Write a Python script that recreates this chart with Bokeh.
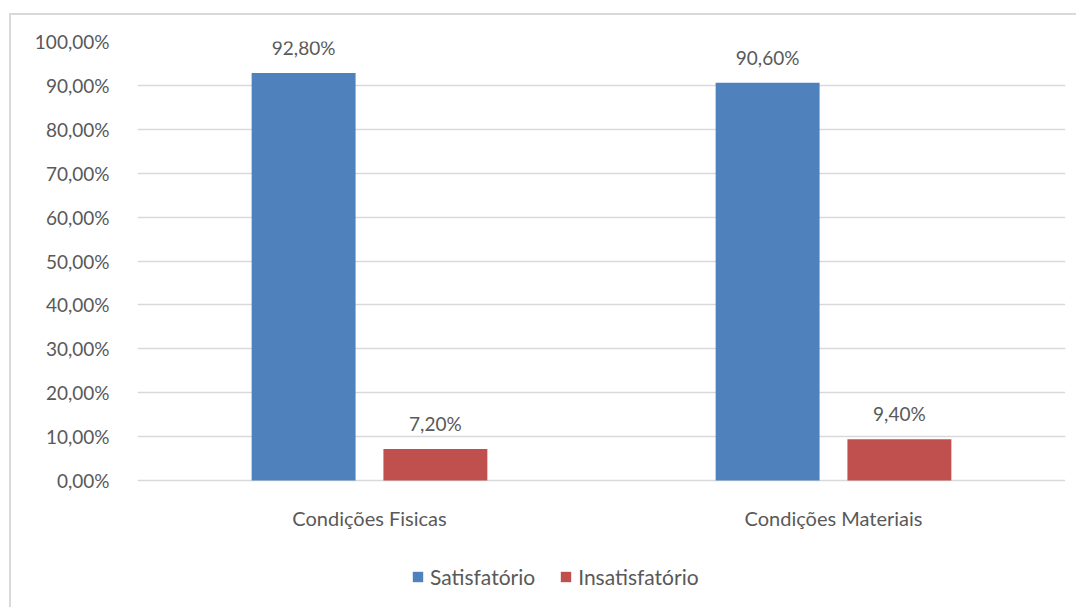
from bokeh.plotting import figure
from bokeh.models import (ColumnDataSource, FactorRange, Range1d, FixedTicker,
                          Legend, LegendItem, LabelSet)
from bokeh.core.properties import value
from bokeh.transform import dodge
from bokeh.embed import file_html
from bokeh.resources import INLINE

# Survey results per condition
categories = ["Condições Fisicas", "Condições Materiais"]
satisfatorio = [0.928, 0.906]
insatisfatorio = [0.072, 0.094]
series_names = ["Satisfatório", "Insatisfatório"]
y_ticks = [0.0, 0.1, 0.2, 0.3, 0.4, 0.5, 0.6, 0.7, 0.8, 0.9, 1.0]
y_tick_labels = ["0,00%", "10,00%", "20,00%", "30,00%", "40,00%", "50,00%",
                 "60,00%", "70,00%", "80,00%", "90,00%", "100,00%"]

BLUE = "#4F81BD"
RED = "#C0504D"
GRID = "#D9D9D9"
TEXT = "#595959"
FONT = "Lato"

# plot area geometry (pixels): value axis spans 439 px, and the space under
# the zero line holds the category names and the legend
AXIS_PX = 439
BELOW_PX = 129


def pct(v):
    return f"{v * 100:.2f}".replace(".", ",") + "%"


source = ColumnDataSource(data=dict(
    cat=categories,
    sat=satisfatorio,
    ins=insatisfatorio,
    zero=[0.0] * len(categories),
    sat_label=[pct(v) for v in satisfatorio],
    ins_label=[pct(v) for v in insatisfatorio],
))

# chart area sits inside a light border on its left and top edges
p = figure(width=1067, height=594, margin=(13, 0, 0, 9),
           x_range=FactorRange(*categories, range_padding=0),
           y_range=Range1d(-BELOW_PX / AXIS_PX, 1),
           output_backend="svg", toolbar_location=None,
           min_border_left=126, min_border_right=13,
           min_border_top=26, min_border_bottom=0)
p.styles = {"border-left": f"2px solid {GRID}", "border-top": f"2px solid {GRID}"}

p.outline_line_color = None
p.background_fill_color = "white"
p.border_fill_color = "white"

offset = 0.142
bar_w = 0.224

r_sat = p.vbar(x=dodge("cat", -offset, range=p.x_range), top="sat", width=bar_w,
               source=source, fill_color=BLUE, line_color=None)
r_ins = p.vbar(x=dodge("cat", offset, range=p.x_range), top="ins", width=bar_w,
               source=source, fill_color=RED, line_color=None)

# value labels above the bars
label_style = dict(text_font=value(FONT), text_font_size="19px", text_color=TEXT,
                   text_align="center", text_baseline="alphabetic", y_offset=18)
p.add_layout(LabelSet(x=dodge("cat", -offset, range=p.x_range), y="sat",
                      text="sat_label", source=source, **label_style))
p.add_layout(LabelSet(x=dodge("cat", offset, range=p.x_range), y="ins",
                      text="ins_label", source=source, **label_style))

# category names under the zero line
p.add_layout(LabelSet(x="cat", y="zero", text="cat", source=source,
                      text_font=value(FONT), text_font_size="20px",
                      text_color=TEXT, text_align="center",
                      text_baseline="middle", y_offset=-37))

# y axis
p.yaxis.ticker = FixedTicker(ticks=y_ticks)
p.yaxis.major_label_overrides = dict(zip(y_ticks, y_tick_labels))
p.yaxis.axis_line_color = None
p.yaxis.major_tick_line_color = None
p.yaxis.minor_tick_line_color = None
p.yaxis.major_label_text_font = FONT
p.yaxis.major_label_text_font_size = "19px"
p.yaxis.major_label_text_color = TEXT
p.yaxis.major_label_standoff = 22

p.xaxis.visible = False
p.xgrid.grid_line_color = None
p.ygrid.grid_line_color = GRID
p.ygrid.grid_line_width = 1.5

legend = Legend(items=[LegendItem(label=series_names[0], renderers=[r_sat]),
                       LegendItem(label=series_names[1], renderers=[r_ins])],
                orientation="horizontal", location=(274, 20),
                glyph_width=13, glyph_height=13, label_standoff=6, spacing=24,
                padding=0, margin=0, border_line_color=None,
                background_fill_alpha=0,
                label_text_font=FONT, label_text_font_size="21px",
                label_text_color=TEXT, label_height=13)
p.add_layout(legend, "center")

open("out.html", "w").write(file_html(p, INLINE))
